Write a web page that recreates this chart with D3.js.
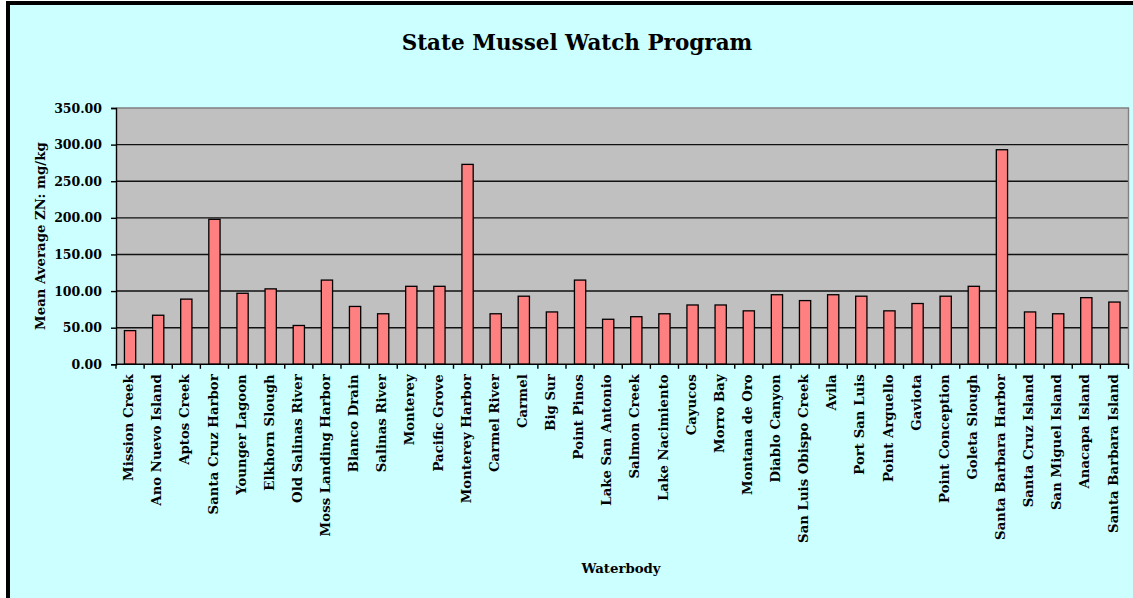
<!DOCTYPE html>
<html>
<head>
<meta charset="utf-8">
<script src="https://cdn.jsdelivr.net/npm/d3@7"></script>
<style>
  html, body { margin: 0; padding: 0; background: #ffffff; }
  svg { display: block; }
  text { font-family: "DejaVu Serif", "Liberation Serif", serif; font-weight: bold; fill: #000; }
</style>
</head>
<body>
<svg id="chart" width="1133" height="598"></svg>
<script>
// Monitoring stations (waterbodies), in sampling order
const waterbodies = [
  "Mission Creek", "Ano Nuevo Island", "Aptos Creek", "Santa Cruz Harbor",
  "Younger Lagoon", "Elkhorn Slough", "Old Salinas River", "Moss Landing Harbor",
  "Blanco Drain", "Salinas River", "Monterey", "Pacific Grove",
  "Monterey Harbor", "Carmel River", "Carmel", "Big Sur",
  "Point Pinos", "Lake San Antonio", "Salmon Creek", "Lake Nacimiento",
  "Cayucos", "Morro Bay", "Montana de Oro", "Diablo Canyon",
  "San Luis Obispo Creek", "Avila", "Port San Luis", "Point Arguello",
  "Gaviota", "Point Conception", "Goleta Slough", "Santa Barbara Harbor",
  "Santa Cruz Island", "San Miguel Island", "Anacapa Island", "Santa Barbara Island"
];

// Mean average zinc concentration (mg/kg) per waterbody
const meanZinc = [
  46, 67, 89, 198,
  97, 103, 53, 115,
  79, 69, 106.5, 106.5,
  273, 69, 93, 71.5,
  115, 61.5, 65, 69,
  81, 81, 73, 95,
  87, 95, 93, 73,
  83, 93, 106.5, 293,
  71.5, 69, 91, 85
];

// Value axis tick values
const yTickValues = [0, 50, 100, 150, 200, 250, 300, 350];

const chartTitle = "State Mussel Watch Program";
const yTitle = "Mean Average ZN: mg/kg";
const xTitle = "Waterbody";

const data = waterbodies.map((name, i) => ({ name, value: meanZinc[i] }));

const svg = d3.select("#chart");
const W = 1133, H = 598;

// Chart area background and frame
svg.append("rect").attr("x", 8).attr("y", 3).attr("width", W - 8).attr("height", H - 3)
  .attr("fill", "#ccffff");
svg.append("line").attr("x1", 6).attr("x2", W).attr("y1", 3).attr("y2", 3)
  .attr("stroke", "#000").attr("stroke-width", 4);
svg.append("line").attr("x1", 8).attr("x2", 8).attr("y1", 1).attr("y2", H)
  .attr("stroke", "#000").attr("stroke-width", 4);

// Plot area
const plot = { left: 116, top: 108, right: 1128.5, bottom: 364.3 };

const x = d3.scaleBand()
  .domain(waterbodies)
  .range([plot.left, plot.right])
  .paddingInner(0.6)
  .paddingOuter(0.3);

const y = d3.scaleLinear()
  .domain([0, 350])
  .range([plot.bottom, plot.top]);

svg.append("rect")
  .attr("x", plot.left).attr("y", plot.top)
  .attr("width", plot.right - plot.left).attr("height", plot.bottom - plot.top)
  .attr("fill", "#c0c0c0");

// Horizontal gridlines
svg.append("g")
  .selectAll("line")
  .data(yTickValues.filter(v => v > 0 && v < 350))
  .join("line")
  .attr("x1", plot.left).attr("x2", plot.right)
  .attr("y1", d => y(d)).attr("y2", d => y(d))
  .attr("stroke", "#111").attr("stroke-width", 1.4);

// Plot frame (top and right edges)
svg.append("path")
  .attr("d", `M${plot.left},${y(350)}H${plot.right}V${plot.bottom}`)
  .attr("fill", "none").attr("stroke", "#808080").attr("stroke-width", 1.4);

// Bars
svg.append("g")
  .selectAll("rect")
  .data(data)
  .join("rect")
  .attr("x", d => x(d.name))
  .attr("y", d => y(d.value))
  .attr("width", x.bandwidth())
  .attr("height", d => y(0) - y(d.value))
  .attr("fill", "#ff8080")
  .attr("stroke", "#000")
  .attr("stroke-width", 1.3);

// Value axis
const yAxis = svg.append("g")
  .attr("transform", `translate(${plot.left},0)`)
  .call(d3.axisLeft(y).tickValues(yTickValues).tickFormat(d3.format(".2f"))
    .tickSize(5).tickPadding(9));
yAxis.select(".domain").attr("stroke", "#000").attr("stroke-width", 1.4);
yAxis.selectAll(".tick line").attr("stroke", "#000").attr("stroke-width", 1.4);
yAxis.selectAll(".tick text")
  .style("font-family", "'DejaVu Serif', serif").style("font-weight", "bold")
  .style("font-size", "12.5px").attr("fill", "#000");

// Category axis: baseline, tick marks between categories, rotated labels
const xAxis = svg.append("g")
  .attr("transform", `translate(0,${plot.bottom})`)
  .call(d3.axisBottom(x).tickSize(0).tickPadding(0));
xAxis.select(".domain").remove();
xAxis.selectAll(".tick text")
  .attr("transform", "rotate(-90)")
  .attr("x", -10)
  .attr("y", -1.5)
  .attr("dy", "0.35em")
  .attr("text-anchor", "end")
  .style("font-family", "'DejaVu Serif', serif").style("font-weight", "bold")
  .style("font-size", "13.3px").attr("fill", "#000");

const half = x.step() * x.paddingInner() / 2;
const boundaries = waterbodies.map(d => x(d) - half).concat([x(waterbodies[waterbodies.length - 1]) + x.bandwidth() + half]);
xAxis.append("g")
  .selectAll("line")
  .data(boundaries)
  .join("line")
  .attr("x1", d => d).attr("x2", d => d)
  .attr("y1", 0).attr("y2", 4.5)
  .attr("stroke", "#000").attr("stroke-width", 1.4);
xAxis.append("line")
  .attr("x1", plot.left).attr("x2", plot.right)
  .attr("y1", 0).attr("y2", 0)
  .attr("stroke", "#000").attr("stroke-width", 1.4);

// Titles
svg.append("text")
  .attr("x", 577).attr("y", 50)
  .attr("text-anchor", "middle")
  .style("font-size", "21.5px")
  .text(chartTitle);

svg.append("text")
  .attr("transform", `translate(40,${(plot.top + plot.bottom) / 2}) rotate(-90)`)
  .attr("text-anchor", "middle")
  .attr("dy", "0.35em")
  .style("font-size", "13.3px")
  .text(yTitle);

svg.append("text")
  .attr("x", 621).attr("y", 573)
  .attr("text-anchor", "middle")
  .style("font-size", "13.3px")
  .text(xTitle);
</script>
</body>
</html>
